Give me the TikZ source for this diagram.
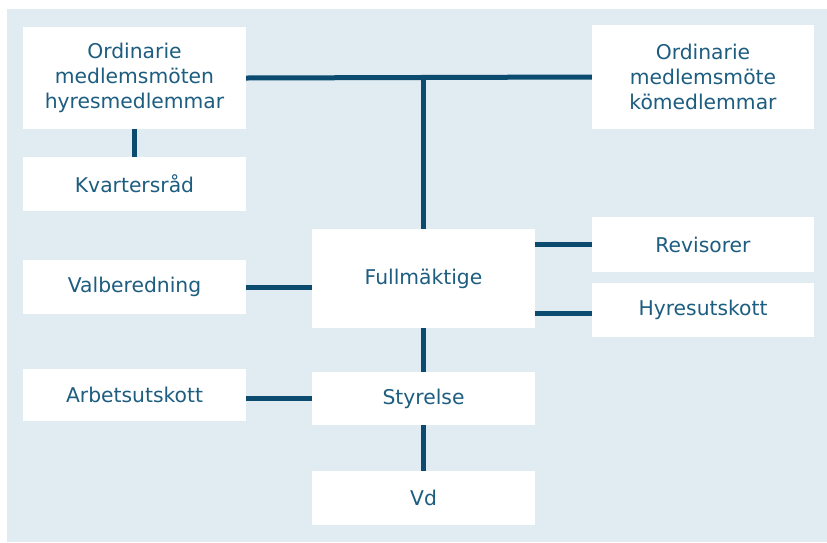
\documentclass[tikz,border=0pt]{standalone}
\usepackage{fontspec}
\setmainfont{DejaVu Sans}
\usetikzlibrary{calc}

\definecolor{panelbg}{HTML}{E1EBF2}
\definecolor{linkcol}{HTML}{0B4B70}
\definecolor{labelcol}{HTML}{1D5D80}

\begin{document}
\begin{tikzpicture}[
  x=1pt,y=-1pt,
  unit/.style={fill=white,inner sep=0pt,align=center,text=labelcol,
    font=\fontsize{20.3}{25}\selectfont,minimum width=223pt},
  link/.style={line width=5pt,linkcol}
]
  \useasboundingbox (0,0) rectangle (827,542);
  \fill[panelbg] (7,9) rectangle (827,542);

  % Member meetings and the boxes hanging from them.
  \node[unit,minimum height=102pt] (medhyr) at (134.5,78)
    {Ordinarie\\medlemsmöten\\hyresmedlemmar};
  \node[unit,minimum height=54pt] (kvart) at (134.5,184) {Kvartersråd};
  \node[unit,minimum height=104pt,minimum width=222pt] (medko) at (703,77)
    {Ordinarie\\medlemsmöte\\kömedlemmar};

  % Central column.
  \node[unit,minimum height=99pt] (fullm) at (423.5,278.5) {Fullmäktige};
  \node[unit,minimum height=53pt] (styr) at (423.5,398.5) {Styrelse};
  \node[unit,minimum height=54pt] (vd) at (423.5,498) {Vd};

  % Side boxes.
  \node[unit,minimum height=54pt] (valb) at (134.5,287) {Valberedning};
  \node[unit,minimum height=52pt] (arbet) at (134.5,395) {Arbetsutskott};
  \node[unit,minimum height=55pt,minimum width=222pt] (revis) at (703,244.5) {Revisorer};
  \node[unit,minimum height=54pt,minimum width=222pt] (hyres) at (703,310) {Hyresutskott};

  % Connectors.
  \draw[link] (medhyr.east) -- (medko.west);
  \coordinate (top) at ($(medhyr.east)!0.5!(medko.west)$);
  \draw[link] (fullm.north) -- (fullm.north |- top);
  \draw[link] (medhyr.south) -- (kvart.north);
  \draw[link] (valb.east) -- (valb.east -| fullm.west);
  \draw[link] (styr.west) -- (styr.west -| arbet.east);
  \draw[link] (revis.west) -- (revis.west -| fullm.east);
  \draw[link] ($(hyres.west)+(0,3)$) -- ($(hyres.west -| fullm.east)+(0,3)$);
  \draw[link] (fullm.south) -- (styr.north);
  \draw[link] (styr.south) -- (vd.north);
\end{tikzpicture}
\end{document}
